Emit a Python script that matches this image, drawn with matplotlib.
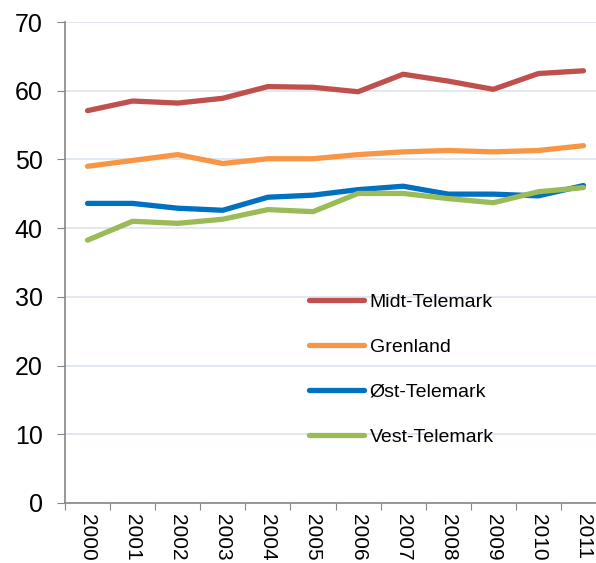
import numpy as np
import matplotlib.pyplot as plt

plt.rcParams['font.family'] = ['Liberation Sans', 'DejaVu Sans']

years = ['2000', '2001', '2002', '2003', '2004', '2005', '2006', '2007', '2008', '2009', '2010', '2011']

midt = [57.1, 58.5, 58.2, 58.9, 60.6, 60.5, 59.85, 62.4, 61.4, 60.2, 62.5, 62.9]
grenland = [49.0, 49.85, 50.7, 49.4, 50.1, 50.1, 50.7, 51.1, 51.3, 51.1, 51.3, 52.0]
ost = [43.6, 43.6, 42.9, 42.6, 44.5, 44.8, 45.6, 46.1, 44.95, 44.95, 44.7, 46.2]
vest = [38.25, 41.0, 40.7, 41.3, 42.7, 42.4, 45.05, 45.05, 44.3, 43.7, 45.3, 45.9]

fig = plt.figure(figsize=(5.96, 5.63), dpi=100)
ax = fig.add_axes([65/596, 60/563, 541/596, 481/563])

x = np.arange(len(years))
lw = 3.8
ax.plot(x, midt, color='#C0504D', lw=lw, label='Midt-Telemark', solid_capstyle='round')
ax.plot(x, grenland, color='#F79646', lw=lw, label='Grenland', solid_capstyle='round')
ax.plot(x, ost, color='#0070C0', lw=lw, label='Øst-Telemark', solid_capstyle='round')
ax.plot(x, vest, color='#9BBB59', lw=lw, label='Vest-Telemark', solid_capstyle='round')

ax.set_xlim(-0.5, 11.5)
ax.set_ylim(0, 70)
ax.set_yticks(range(0, 71, 10))
ax.set_xticks(np.arange(-0.5, 12, 1), minor=False)
ax.set_xticklabels([])
ax.set_xticks(x, minor=True)
ax.set_xticklabels(years, minor=True, rotation=-90, fontsize=15)
ax.tick_params(axis='x', which='minor', length=0, pad=8)
ax.tick_params(axis='x', which='major', length=5, color='#868686', direction='out')
ax.tick_params(axis='y', length=6, color='#868686', labelsize=18, pad=10)

ax.grid(axis='y', color='#DCE4EE', lw=1.2)
ax.set_axisbelow(True)
for s in ['top', 'right']:
    ax.spines[s].set_visible(False)
ax.spines['left'].set_color('#868686')
ax.spines['bottom'].set_color('#868686')
ax.spines['left'].set_linewidth(1.2)
ax.spines['bottom'].set_linewidth(1.2)

ax.legend(loc='upper left', bbox_to_anchor=(291/596, 1 - 276/563), bbox_transform=fig.transFigure,
          frameon=False, fontsize=14, handlelength=2.85, labelspacing=1.4, handletextpad=0.3)

plt.savefig('out.png', dpi=100)
